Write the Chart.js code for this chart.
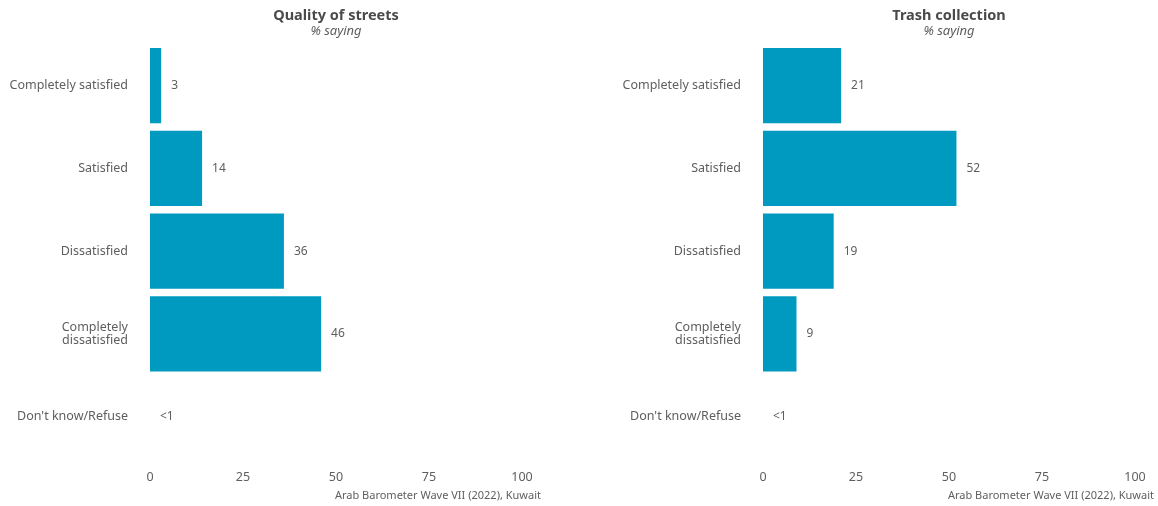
<!DOCTYPE html>
<html>
<head>
<meta charset="utf-8">
<script src="https://cdn.jsdelivr.net/npm/chart.js@4/dist/chart.umd.min.js"></script>
<style>
  html, body { margin: 0; padding: 0; background: #fff; }
  body { width: 1158px; height: 506px; position: relative; overflow: hidden; }
  .panel { position: absolute; top: 0; height: 506px; }
  #leftWrap { left: 0; width: 545px; }
  #rightWrap { left: 579px; width: 579px; }
</style>
</head>
<body>
<div class="panel" id="leftWrap"><canvas id="chartStreets"></canvas></div>
<div class="panel" id="rightWrap"><canvas id="chartTrash"></canvas></div>

<script>
// ===== data =====
const categories = [
    "Completely satisfied",
    "Satisfied",
    "Dissatisfied",
    ["Completely", "dissatisfied"],
    "Don't know/Refuse"
];
const streetsValues = [3, 14, 36, 46, 0];
const streetsLabels = ["3", "14", "36", "46", "<1"];
const trashValues = [21, 52, 19, 9, 0];
const trashLabels = ["21", "52", "19", "9", "<1"];
const xTicks = [0, 25, 50, 75, 100];

const barColor = "#009ac0";
const textColor = "#5e5e5e";
const fontFamily = "'Noto Sans', 'Open Sans', sans-serif";
const sourceText = "Arab Barometer Wave VII (2022), Kuwait";

// value labels just to the right of each bar
const valueLabelPlugin = {
    id: "valueLabels",
    afterDatasetsDraw(chart, args, opts) {
        const ctx = chart.ctx;
        const meta = chart.getDatasetMeta(0);
        ctx.save();
        ctx.font = "12px " + fontFamily;
        ctx.fillStyle = textColor;
        ctx.textAlign = "left";
        ctx.textBaseline = "middle";
        meta.data.forEach((bar, i) => {
            ctx.fillText(opts.labels[i], bar.x + 10, bar.y);
        });
        ctx.restore();
    }
};

// source caption bottom right
const captionPlugin = {
    id: "caption",
    afterDraw(chart) {
        const ctx = chart.ctx;
        ctx.save();
        ctx.font = "11px " + fontFamily;
        ctx.fillStyle = textColor;
        ctx.textAlign = "right";
        ctx.textBaseline = "middle";
        ctx.fillText(sourceText, chart.width - 4, 496);
        ctx.restore();
    }
};

function makeChart(canvasId, title, values, labels, axisWidth) {
    const ctx = document.getElementById(canvasId);
    return new Chart(ctx, {
        type: "bar",
        data: {
            labels: categories,
            datasets: [{
                data: values,
                backgroundColor: barColor,
                borderWidth: 0,
                barPercentage: 0.91,
                categoryPercentage: 1.0
            }]
        },
        options: {
            indexAxis: "y",
            responsive: true,
            maintainAspectRatio: false,
            animation: false,
            layout: { padding: { top: 8, right: 23, bottom: 9, left: 0 } },
            plugins: {
                legend: { display: false },
                tooltip: { enabled: false },
                title: {
                    display: true,
                    text: title,
                    fullSize: false,
                    color: "#4a4a4a",
                    font: { family: fontFamily, size: 14.5, weight: "bold", lineHeight: 1.1 },
                    padding: { top: 0, bottom: 0 }
                },
                subtitle: {
                    display: true,
                    text: "% saying",
                    fullSize: false,
                    color: textColor,
                    font: { family: fontFamily, size: 13, style: "italic", lineHeight: 1.1 },
                    padding: { top: 0, bottom: 6 }
                },
                valueLabels: { labels: labels }
            },
            scales: {
                x: {
                    min: 0,
                    max: 100,
                    afterBuildTicks: axis => {
                        axis.ticks = xTicks.map(v => ({ value: v }));
                    },
                    grid: { display: false, drawTicks: false },
                    border: { display: false },
                    ticks: {
                        color: textColor,
                        padding: 12,
                        font: { family: fontFamily, size: 12.5 }
                    }
                },
                y: {
                    grid: { display: false, drawTicks: false },
                    border: { display: false },
                    afterFit: axis => { axis.width = axisWidth; },
                    ticks: {
                        color: textColor,
                        padding: 22,
                        font: { family: fontFamily, size: 12.5, lineHeight: 1.05 }
                    }
                }
            }
        },
        plugins: [valueLabelPlugin, captionPlugin]
    });
}

makeChart("chartStreets", "Quality of streets", streetsValues, streetsLabels, 150);
makeChart("chartTrash", "Trash collection", trashValues, trashLabels, 184);
</script>
</body>
</html>
